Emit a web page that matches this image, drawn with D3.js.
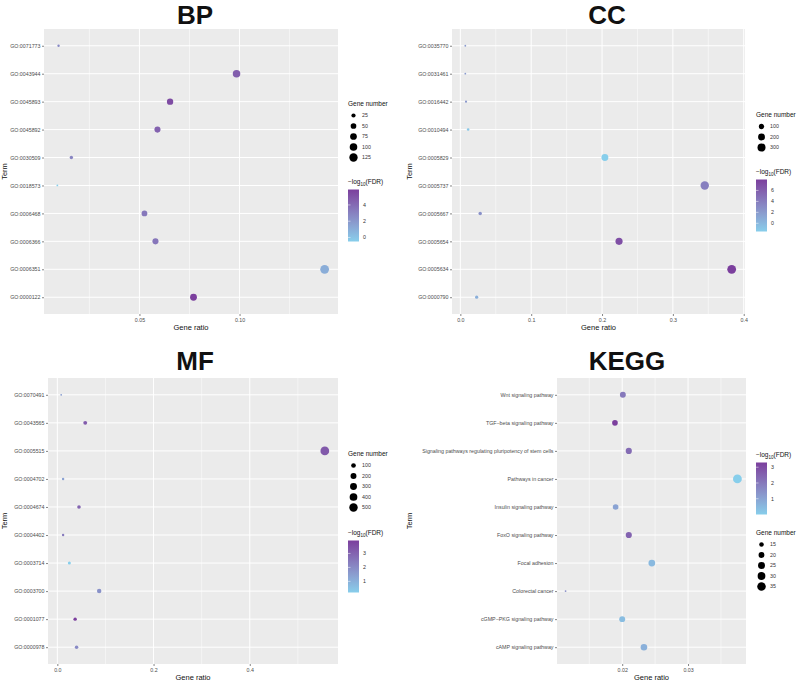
<!DOCTYPE html>
<html>
<head>
<meta charset="utf-8">
<script src="https://cdn.jsdelivr.net/npm/d3@7"></script>
<style>
body { margin: 0; background: #fff; }
text { font-family: "Liberation Sans", Arial, sans-serif; }
</style>
</head>
<body>
<script>
// Width and height of page
var width = 800;
var height = 683;

// ---- BP data (top row first) ----
var bpTerms = ["GO:0071773", "GO:0043944", "GO:0045893", "GO:0045892", "GO:0030509",
               "GO:0018573", "GO:0006468", "GO:0006366", "GO:0006351", "GO:0000122"];
var bpRatio = [0.0096, 0.0985, 0.0653, 0.0590, 0.0160, 0.0090, 0.0525, 0.0580, 0.1425, 0.0770];
var bpCount = [10, 98, 65, 59, 16, 9, 52, 58, 142, 77];
var bpFdr   = [2.6, 4.6, 5.4, 4.4, 2.8, -0.5, 3.4, 3.5, 1.0, 5.9];
var bpXTicks = [0.05, 0.10];
var bpSizeBreaks = [25, 50, 75, 100, 125];
var bpColorTicks = [0, 2, 4];

// ---- CC data ----
var ccTerms = ["GO:0035770", "GO:0031461", "GO:0016442", "GO:0010494", "GO:0005829",
               "GO:0005737", "GO:0005667", "GO:0005654", "GO:0005634", "GO:0000790"];
var ccRatio = [0.007, 0.007, 0.008, 0.011, 0.204, 0.345, 0.028, 0.224, 0.383, 0.023];
var ccCount = [7, 7, 8, 11, 204, 345, 28, 224, 383, 23];
var ccFdr   = [2.0, 2.0, 2.2, -1.0, -1.5, 3.8, 2.6, 7.0, 8.0, 0.6];
var ccXTicks = [0.0, 0.1, 0.2, 0.3, 0.4];
var ccSizeBreaks = [100, 200, 300];
var ccColorTicks = [0, 2, 4, 6];

// ---- MF data ----
var mfTerms = ["GO:0070491", "GO:0043565", "GO:0005515", "GO:0004702", "GO:0004674",
               "GO:0004402", "GO:0003714", "GO:0003700", "GO:0001077", "GO:0000978"];
var mfRatio = [0.008, 0.058, 0.556, 0.012, 0.045, 0.012, 0.025, 0.087, 0.037, 0.040];
var mfCount = [8, 58, 556, 12, 45, 12, 25, 87, 37, 40];
var mfFdr   = [1.5, 3.2, 3.3, 1.4, 3.0, 2.4, 0.2, 1.8, 3.93, 2.0];
var mfXTicks = [0.0, 0.2, 0.4];
var mfSizeBreaks = [100, 200, 300, 400, 500];
var mfColorTicks = [1, 2, 3];

// ---- KEGG data ----
var keggTerms = ["Wnt signaling pathway", "TGF\u2212beta signaling pathway",
                 "Signaling pathways regulating pluripotency of stem cells", "Pathways in cancer",
                 "Insulin signaling pathway", "FoxO signaling pathway", "Focal adhesion",
                 "Colorectal cancer", "cGMP\u2212PKG signaling pathway", "cAMP signaling pathway"];
var keggRatio = [0.0201, 0.0189, 0.0210, 0.0375, 0.0190, 0.0210, 0.0245, 0.0114, 0.0200, 0.0233];
var keggCount = [20, 19, 21, 37, 19, 21, 24, 11, 20, 23];
var keggFdr   = [2.0, 3.3, 2.3, 0.0, 1.0, 2.5, 0.5, 1.5, 0.4, 0.7];
var keggXTicks = [0.02, 0.03];
var keggSizeBreaks = [15, 20, 25, 30, 35];
var keggColorTicks = [1, 2, 3];

var lowColor = "#87ceeb";
var highColor = "#7b3f9d";

var svg = d3.select("body")
            .append("svg")
            .attr("width", width)
            .attr("height", height);

var defs = svg.append("defs");

function drawPanel(o) {
    var g = svg.append("g");

    // x scale, 5% expansion like ggplot
    var ext = d3.extent(o.ratio);
    var pad = (ext[1] - ext[0]) * 0.05;
    var x = d3.scaleLinear()
              .domain([ext[0] - pad, ext[1] + pad])
              .range([o.left, o.right]);

    var y = d3.scalePoint()
              .domain(o.terms)
              .range([o.top, o.bottom])
              .padding(0.6);

    var color = d3.scaleLinear()
                  .domain(d3.extent(o.fdr))
                  .range([lowColor, highColor])
                  .interpolate(d3.interpolateLab);

    // size like ggplot area palette
    var cExt = d3.extent(o.count);
    var rLin = d3.scaleLinear().domain([0, 1]).range([0.9, 4.4]);
    var size = function(v) {
        var t = (v - cExt[0]) / (cExt[1] - cExt[0]);
        return rLin(Math.sqrt(Math.max(0, t)));
    };

    // panel background
    g.append("rect")
     .attr("x", o.left).attr("y", o.top)
     .attr("width", o.right - o.left).attr("height", o.bottom - o.top)
     .style("fill", "#ebebeb");

    // minor grid: midpoints between major ticks
    var step = o.xTicks.length > 1 ? o.xTicks[1] - o.xTicks[0] : 0.1;
    var minor = [];
    for (var k = -3; k < o.xTicks.length + 3; k++) {
        var v = o.xTicks[0] + (k + 0.5) * step;
        if (v > x.domain()[0] && v < x.domain()[1]) minor.push(v);
    }
    g.selectAll(".minor")
     .data(minor)
     .enter()
     .append("line")
     .attr("x1", function(d) { return x(d); }).attr("x2", function(d) { return x(d); })
     .attr("y1", o.top).attr("y2", o.bottom)
     .style("stroke", "#fff").style("stroke-width", 0.5);

    // major grid
    g.selectAll(".vmajor")
     .data(o.xTicks)
     .enter()
     .append("line")
     .attr("x1", function(d) { return x(d); }).attr("x2", function(d) { return x(d); })
     .attr("y1", o.top).attr("y2", o.bottom)
     .style("stroke", "#fff").style("stroke-width", 1);

    g.selectAll(".hmajor")
     .data(o.terms)
     .enter()
     .append("line")
     .attr("x1", o.left).attr("x2", o.right)
     .attr("y1", function(d) { return y(d); }).attr("y2", function(d) { return y(d); })
     .style("stroke", "#fff").style("stroke-width", 1);

    // points
    g.selectAll(".pt")
     .data(o.terms)
     .enter()
     .append("circle")
     .attr("cx", function(d, i) { return x(o.ratio[i]); })
     .attr("cy", function(d) { return y(d); })
     .attr("r", function(d, i) { return size(o.count[i]); })
     .style("fill", function(d, i) { return color(o.fdr[i]); });

    // axes
    var yAxis = g.append("g")
                 .attr("transform", "translate(" + o.left + ",0)")
                 .call(d3.axisLeft(y).tickSize(2).tickPadding(1.5));
    var xAxis = g.append("g")
                 .attr("transform", "translate(0," + o.bottom + ")")
                 .call(d3.axisBottom(x).tickValues(o.xTicks).tickSize(2).tickPadding(2)
                        .tickFormat(d3.format(o.fmt)));
    [yAxis, xAxis].forEach(function(a) {
        a.select(".domain").remove();
        a.selectAll("line").style("stroke", "#333").style("stroke-width", 0.6);
        a.selectAll("text").style("fill", "#4d4d4d").style("font-size", "5.3px");
    });

    // titles
    g.append("text")
     .attr("x", o.titleX).attr("y", o.titleY)
     .attr("text-anchor", "middle")
     .style("font-size", "26px").style("font-weight", "bold").style("fill", "#111")
     .text(o.title);

    g.append("text")
     .attr("x", (o.left + o.right) / 2).attr("y", o.bottom + 16)
     .attr("text-anchor", "middle")
     .style("font-size", "7.5px").style("fill", "#111")
     .text("Gene ratio");

    g.append("text")
     .attr("transform", "translate(" + o.termX + "," + ((o.top + o.bottom) / 2) + ") rotate(-90)")
     .attr("text-anchor", "middle")
     .style("font-size", "7.5px").style("fill", "#111")
     .text("Term");

    // size legend
    var sl = g.append("g").attr("transform", "translate(" + o.legX + "," + o.sizeY + ")");
    sl.append("text").attr("x", 0).attr("y", 0)
      .attr("dy", "0.35em")
      .style("font-size", "6.5px").style("fill", "#111")
      .text("Gene number");
    var items = sl.selectAll(".si")
                  .data(o.sizeBreaks)
                  .enter()
                  .append("g")
                  .attr("transform", function(d, i) { return "translate(0," + (11.5 + i * 10.5) + ")"; });
    items.append("circle")
         .attr("cx", 5.5).attr("cy", 0)
         .attr("r", function(d) { return size(d); })
         .style("fill", "#000");
    items.append("text")
         .attr("x", 14).attr("y", 0).attr("dy", "0.35em")
         .style("font-size", "5.3px").style("fill", "#333")
         .text(function(d) { return d; });

    // colour legend
    var cl = g.append("g").attr("transform", "translate(" + o.legX + "," + o.colorY + ")");
    var title = cl.append("text").attr("x", 0).attr("y", 0).attr("dy", "0.35em")
                  .style("font-size", "6.5px").style("fill", "#111");
    title.append("tspan").text("\u2212log");
    title.append("tspan").attr("dy", "1.5").style("font-size", "4.5px").text("10");
    title.append("tspan").attr("dy", "-1.5").text("(FDR)");

    var gid = "grad" + o.title;
    var grad = defs.append("linearGradient")
                   .attr("id", gid)
                   .attr("x1", "0").attr("y1", "1").attr("x2", "0").attr("y2", "0");
    d3.range(0, 1.0001, 0.1).forEach(function(t) {
        var dom = color.domain();
        grad.append("stop")
            .attr("offset", t)
            .attr("stop-color", color(dom[0] + t * (dom[1] - dom[0])));
    });
    var barTop = 7.5, barH = 52;
    cl.append("rect")
      .attr("x", 0).attr("y", barTop)
      .attr("width", 11).attr("height", barH)
      .style("fill", "url(#" + gid + ")");
    var cy = d3.scaleLinear().domain(color.domain()).range([barTop + barH, barTop]);
    cl.selectAll(".ct")
      .data(o.colorTicks)
      .enter()
      .append("text")
      .attr("x", 15).attr("y", function(d) { return cy(d); }).attr("dy", "0.35em")
      .style("font-size", "5.3px").style("fill", "#333")
      .text(function(d) { return d; });
    cl.selectAll(".ctl")
      .data(o.colorTicks)
      .enter()
      .append("line")
      .attr("x1", 0).attr("x2", 2.5)
      .attr("y1", function(d) { return cy(d); }).attr("y2", function(d) { return cy(d); })
      .style("stroke", "#fff").style("stroke-width", 0.5);
}

drawPanel({ title: "BP", terms: bpTerms, ratio: bpRatio, count: bpCount, fdr: bpFdr,
            xTicks: bpXTicks, fmt: ".2f", sizeBreaks: bpSizeBreaks, colorTicks: bpColorTicks,
            left: 44, right: 338, top: 29, bottom: 314, titleX: 195, titleY: 24, termX: 7,
            legX: 348, sizeY: 104, colorY: 182 });

drawPanel({ title: "CC", terms: ccTerms, ratio: ccRatio, count: ccCount, fdr: ccFdr,
            xTicks: ccXTicks, fmt: ".1f", sizeBreaks: ccSizeBreaks, colorTicks: ccColorTicks,
            left: 452, right: 745, top: 29, bottom: 314, titleX: 607, titleY: 24, termX: 412,
            legX: 756, sizeY: 115, colorY: 172 });

drawPanel({ title: "MF", terms: mfTerms, ratio: mfRatio, count: mfCount, fdr: mfFdr,
            xTicks: mfXTicks, fmt: ".1f", sizeBreaks: mfSizeBreaks, colorTicks: mfColorTicks,
            left: 48, right: 338, top: 378, bottom: 664, titleX: 195, titleY: 370, termX: 7,
            legX: 348, sizeY: 454, colorY: 533 });

drawPanel({ title: "KEGG", terms: keggTerms, ratio: keggRatio, count: keggCount, fdr: keggFdr,
            xTicks: keggXTicks, fmt: ".2f", sizeBreaks: keggSizeBreaks, colorTicks: keggColorTicks,
            left: 557, right: 746, top: 378, bottom: 664, titleX: 627, titleY: 370, termX: 412,
            legX: 756, sizeY: 533, colorY: 455 });
</script>
</body>
</html>
